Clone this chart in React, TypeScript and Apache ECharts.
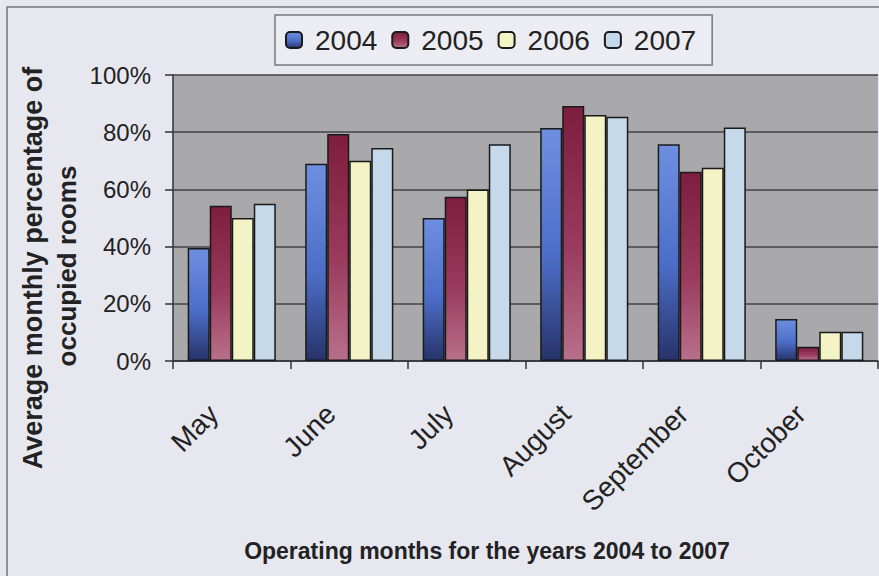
import React, { useEffect, useRef } from "react";
import * as echarts from "echarts";

const months = ["May", "June", "July", "August", "September", "October"];
const years = ["2004", "2005", "2006", "2007"];
const v2004 = [39.5, 69, 50, 81.5, 75.8, 14.7];
const v2005 = [54.3, 79.4, 57.4, 89.2, 66.2, 5];
const v2006 = [50, 70, 60, 86, 67.6, 10.2];
const v2007 = [55, 74.5, 75.8, 85.4, 81.6, 10.2];
const yTicks = [0, 20, 40, 60, 80, 100];

const grad = (top: string, mid: string, bottom: string) =>
  new echarts.graphic.LinearGradient(0, 0, 0, 1, [
    { offset: 0, color: top },
    { offset: 0.55, color: mid },
    { offset: 1, color: bottom },
  ]);

export default function App() {
  const ref = useRef<HTMLDivElement>(null);
  useEffect(() => {
    if (!ref.current) return;
    const chart = echarts.init(ref.current, undefined, { renderer: "svg" });
    const font = "Liberation Sans, Arial, sans-serif";
    const fills = [
      grad("#6e8fe0", "#4d6ec8", "#27336a"),
      grad("#7e1e3e", "#9a3a5c", "#b8708a"),
      "#f3f3c6",
      "#c6d9ea",
    ];
    const values = [v2004, v2005, v2006, v2007];
    chart.setOption({
      animation: false,
      backgroundColor: "#e7e7ef",
      textStyle: { fontFamily: font },
      legend: {
        data: years,
        left: 275,
        top: 15,
        orient: "horizontal",
        padding: [11, 16, 11, 10],
        backgroundColor: "#ececf3",
        borderColor: "#7a7a7a",
        borderWidth: 1.5,
        itemWidth: 16,
        itemHeight: 16,
        itemGap: 14,
        textStyle: { fontSize: 28, color: "#222", fontFamily: font, padding: [0, 0, 0, 8] },
      },
      grid: {
        left: 173,
        top: 75,
        right: 1,
        bottom: 215,
        show: true,
        backgroundColor: "#a9a9ac",
        borderWidth: 0,
      },
      xAxis: {
        type: "category",
        data: months,
        boundaryGap: true,
        axisLine: { show: true, lineStyle: { color: "#333", width: 1.5 } },
        axisTick: { show: true, length: 8, lineStyle: { color: "#333", width: 1.5 } },
        axisLabel: {
          rotate: 45,
          fontSize: 28,
          color: "#222",
          margin: 30,
          padding: [0, 26, 0, 0],
          fontFamily: font,
          interval: 0,
        },
      },
      yAxis: {
        type: "value",
        min: 0,
        max: 100,
        interval: 20,
        axisLine: { show: true, lineStyle: { color: "#333", width: 1.5 } },
        axisTick: { show: true, length: 8, lineStyle: { color: "#333", width: 1.5 } },
        axisLabel: {
          formatter: (v: number) => (yTicks.includes(v) ? v + "%" : ""),
          fontSize: 24,
          color: "#222",
          margin: 22,
          fontFamily: font,
        },
        splitLine: { show: true, lineStyle: { color: "#444", width: 1.5 } },
      },
      graphic: [
        {
          type: "rect",
          shape: { x: 7, y: 7, width: 900, height: 600 },
          style: { fill: "none", stroke: "#777", lineWidth: 1.5 },
          z: -1,
        },
        {
          type: "text",
          x: 33,
          y: 268,
          rotation: Math.PI / 2,
          style: {
            text: "Average monthly percentage of",
            font: "bold 27px " + font,
            fill: "#222",
            align: "center",
            verticalAlign: "middle",
          },
        },
        {
          type: "text",
          x: 67,
          y: 266,
          rotation: Math.PI / 2,
          style: {
            text: "occupied rooms",
            font: "bold 26px " + font,
            fill: "#222",
            align: "center",
            verticalAlign: "middle",
          },
        },
        {
          type: "text",
          x: 487,
          y: 551,
          style: {
            text: "Operating months for the years 2004 to 2007",
            font: "bold 23px " + font,
            fill: "#222",
            align: "center",
            verticalAlign: "middle",
          },
        },
      ],
      series: years.map((y, i) => ({
        name: y,
        type: "bar",
        data: values[i],
        barCategoryGap: "25%",
        barGap: "0%",
        itemStyle: {
          color: fills[i],
          borderColor: "#1a1a1a",
          borderWidth: 1.5,
        },
      })),
    });
    return () => chart.dispose();
  }, []);
  return <div ref={ref} style={{ width: 879, height: 576, position: "absolute", left: 0, top: 0 }} />;
}
